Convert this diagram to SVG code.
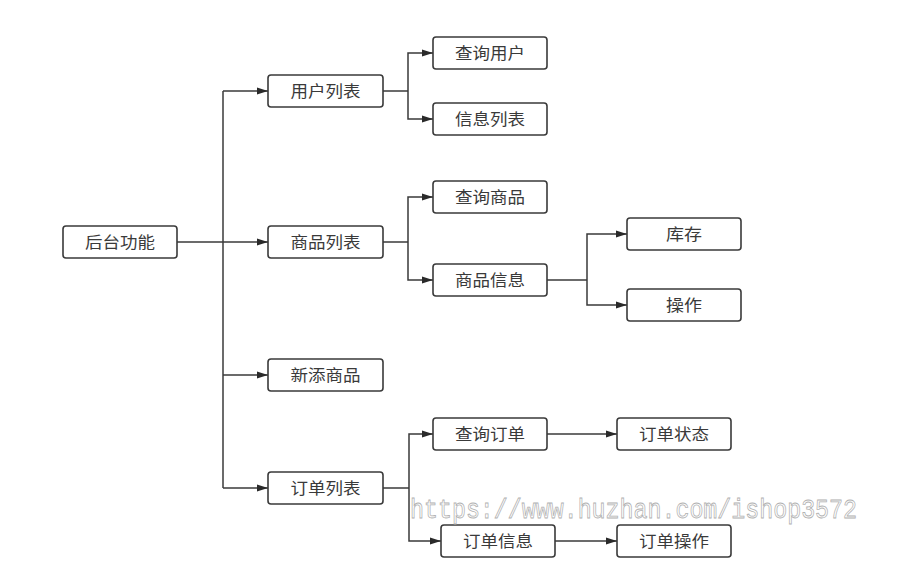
<svg xmlns="http://www.w3.org/2000/svg" width="900" height="580" viewBox="0 0 900 580">
<defs>
<style>
.box rect{fill:#fff;stroke:#3a3a3a;stroke-width:1.6}
.box text{font-family:"Noto Sans CJK SC","Liberation Sans",sans-serif;font-size:16px;fill:#3a3a3a;text-anchor:middle}
.conn path{fill:none;stroke:#3a3a3a;stroke-width:1.5}
.wm{font-family:"Liberation Mono",monospace;font-size:27px;fill:#fff;stroke:#b0b0b0;stroke-width:0.8}
</style>
<marker id="ah" markerUnits="userSpaceOnUse" markerWidth="11" markerHeight="8" refX="11" refY="4" orient="auto">
<path d="M0,0.5 L11,4 L0,7.5 z" fill="#2a2a2a"/>
</marker>
</defs>
<rect width="900" height="580" fill="#fff"/>
<g id="connectors" class="conn">
<path d="M177,242 H268" marker-end="url(#ah)"/>
<path d="M223,91 V488"/>
<path d="M223,91 H268" marker-end="url(#ah)"/>
<path d="M223,375 H268" marker-end="url(#ah)"/>
<path d="M223,488 H268" marker-end="url(#ah)"/>
<path d="M383,91 H408"/>
<path d="M408,91 V53 H433" marker-end="url(#ah)"/>
<path d="M408,91 V119 H433" marker-end="url(#ah)"/>
<path d="M383,242 H408"/>
<path d="M408,242 V197 H433" marker-end="url(#ah)"/>
<path d="M408,242 V280 H433" marker-end="url(#ah)"/>
<path d="M547,280 H587"/>
<path d="M587,280 V234 H627" marker-end="url(#ah)"/>
<path d="M587,280 V305 H627" marker-end="url(#ah)"/>
<path d="M383,488 H409"/>
<path d="M409,488 V434 H433" marker-end="url(#ah)"/>
<path d="M409,488 V541 H441" marker-end="url(#ah)"/>
<path d="M547,434 H617" marker-end="url(#ah)"/>
<path d="M555,541 H617" marker-end="url(#ah)"/>
</g>
<g id="n-root" class="box"><rect x="63" y="226" width="114" height="32" rx="3"/><text x="120" y="248" textLength="70" lengthAdjust="spacingAndGlyphs">后台功能</text></g>
<g id="n-userlist" class="box"><rect x="268" y="75" width="115" height="32" rx="3"/><text x="325.5" y="97" textLength="70" lengthAdjust="spacingAndGlyphs">用户列表</text></g>
<g id="n-goodslist" class="box"><rect x="268" y="226" width="115" height="32" rx="3"/><text x="325.5" y="248" textLength="70" lengthAdjust="spacingAndGlyphs">商品列表</text></g>
<g id="n-addgoods" class="box"><rect x="268" y="359" width="115" height="32" rx="3"/><text x="325.5" y="381" textLength="70" lengthAdjust="spacingAndGlyphs">新添商品</text></g>
<g id="n-orderlist" class="box"><rect x="268" y="472" width="115" height="32" rx="3"/><text x="325.5" y="494" textLength="70" lengthAdjust="spacingAndGlyphs">订单列表</text></g>
<g id="n-queryuser" class="box"><rect x="433" y="37" width="114" height="32" rx="3"/><text x="490" y="59" textLength="70" lengthAdjust="spacingAndGlyphs">查询用户</text></g>
<g id="n-infolist" class="box"><rect x="433" y="103" width="114" height="32" rx="3"/><text x="490" y="125" textLength="70" lengthAdjust="spacingAndGlyphs">信息列表</text></g>
<g id="n-querygoods" class="box"><rect x="433" y="181" width="114" height="32" rx="3"/><text x="490" y="203" textLength="70" lengthAdjust="spacingAndGlyphs">查询商品</text></g>
<g id="n-goodsinfo" class="box"><rect x="433" y="264" width="114" height="32" rx="3"/><text x="490" y="286" textLength="70" lengthAdjust="spacingAndGlyphs">商品信息</text></g>
<g id="n-stock" class="box"><rect x="627" y="218" width="114" height="32" rx="3"/><text x="684" y="240" textLength="36" lengthAdjust="spacingAndGlyphs">库存</text></g>
<g id="n-op" class="box"><rect x="627" y="289" width="114" height="32" rx="3"/><text x="684" y="311" textLength="36" lengthAdjust="spacingAndGlyphs">操作</text></g>
<g id="n-queryorder" class="box"><rect x="433" y="418" width="114" height="32" rx="3"/><text x="490" y="440" textLength="70" lengthAdjust="spacingAndGlyphs">查询订单</text></g>
<g id="n-orderinfo" class="box"><rect x="441" y="525" width="114" height="32" rx="3"/><text x="498" y="547" textLength="70" lengthAdjust="spacingAndGlyphs">订单信息</text></g>
<g id="n-orderstatus" class="box"><rect x="617" y="418" width="114" height="32" rx="3"/><text x="674" y="440" textLength="70" lengthAdjust="spacingAndGlyphs">订单状态</text></g>
<g id="n-orderop" class="box"><rect x="617" y="525" width="114" height="32" rx="3"/><text x="674" y="547" textLength="70" lengthAdjust="spacingAndGlyphs">订单操作</text></g>
<text class="wm" x="410" y="518" textLength="447" lengthAdjust="spacingAndGlyphs">https://www.huzhan.com/ishop3572</text>
</svg>
